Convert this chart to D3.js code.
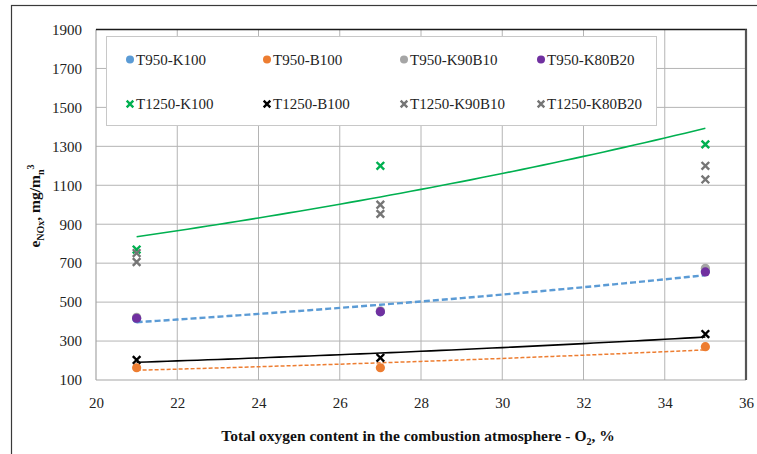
<!DOCTYPE html>
<html>
<head>
<meta charset="utf-8">
<script src="https://cdn.jsdelivr.net/npm/d3@7"></script>
<style>
  body { margin: 0; background: #fff; }
  svg, svg text { font-family: "Liberation Serif", "DejaVu Serif", "Times New Roman", serif; }
</style>
</head>
<body>
<svg id="chart" width="757" height="454"></svg>
<script>
// oxygen content, %
var o2 = [21, 27, 35];

// NOx emission, mg/m3
var t950K100 = [415, 450, 660];
var t950B100 = [163, 163, 271];
var t950K90B10 = [422, 455, 674];
var t950K80B20 = [417, 451, 655];
var t1250K100 = [770, 1200, 1310];
var t1250B100 = [203, 214, 336];
var t1250K90B10 = [752, 1000, 1200];
var t1250K80B20 = [706, 953, 1130];

var xTicks = [20, 22, 24, 26, 28, 30, 32, 34, 36];
var yTicks = [100, 300, 500, 700, 900, 1100, 1300, 1500, 1700, 1900];

var series = [
    {name: "T950-K100", values: t950K100, color: "#5b9bd5", shape: "dot"},
    {name: "T950-B100", values: t950B100, color: "#ed7d31", shape: "dot"},
    {name: "T950-K90B10", values: t950K90B10, color: "#a5a5a5", shape: "dot"},
    {name: "T950-K80B20", values: t950K80B20, color: "#7030a0", shape: "dot"},
    {name: "T1250-K100", values: t1250K100, color: "#00b050", shape: "cross"},
    {name: "T1250-B100", values: t1250B100, color: "#000000", shape: "cross"},
    {name: "T1250-K90B10", values: t1250K90B10, color: "#767676", shape: "cross"},
    {name: "T1250-K80B20", values: t1250K80B20, color: "#767676", shape: "cross"}
];

// exponential trendlines (Excel style), fitted on the series
var trends = [
    {values: t1250K100, color: "#00b050", width: 1.6, dash: null},
    {values: t950K100, color: "#5b9bd5", width: 2.4, dash: "6,3"},
    {values: t1250B100, color: "#000000", width: 1.6, dash: null},
    {values: t950B100, color: "#ed7d31", width: 1.5, dash: "4,2"}
];

var serif = "'Liberation Serif', 'DejaVu Serif', 'Times New Roman', serif";

function expFit(xs, ys) {
    var ly = ys.map(function(v) { return Math.log(v); }),
        mx = d3.mean(xs), my = d3.mean(ly),
        sxy = d3.sum(xs, function(x, i) { return (x - mx) * (ly[i] - my); }),
        sxx = d3.sum(xs, function(x) { return (x - mx) * (x - mx); }),
        b = sxy / sxx, a = Math.exp(my - b * mx);
    return function(x) { return a * Math.exp(b * x); };
}

var svg = d3.select("#chart");

var x = d3.scaleLinear().domain([20, 36]).range([96, 746]),
    y = d3.scaleLinear().domain([100, 1900]).range([380, 29.5]);

// outer chart frame
svg.append("rect")
    .attr("x", 11.5).attr("y", 5.5)
    .attr("width", 800).attr("height", 500)
    .attr("fill", "none").attr("stroke", "#3a3a3a").attr("stroke-width", 1.2);

// gridlines
svg.append("g").selectAll("line").data(xTicks.slice(1, -1)).enter()
    .append("line")
    .attr("x1", function(d) { return x(d); }).attr("x2", function(d) { return x(d); })
    .attr("y1", y(1900)).attr("y2", y(100))
    .attr("stroke", "#b4b4b4").attr("stroke-width", 1);
svg.append("g").selectAll("line").data(yTicks.slice(1, -1)).enter()
    .append("line")
    .attr("x1", x(20)).attr("x2", x(36))
    .attr("y1", function(d) { return y(d); }).attr("y2", function(d) { return y(d); })
    .attr("stroke", "#b4b4b4").attr("stroke-width", 1);

// axes lines (left & bottom gray, top & right dark)
svg.append("line").attr("x1", x(20)).attr("x2", x(20)).attr("y1", y(1900)).attr("y2", y(100))
    .attr("stroke", "#a6a6a6").attr("stroke-width", 1.2);
svg.append("line").attr("x1", x(20)).attr("x2", x(36)).attr("y1", y(100)).attr("y2", y(100))
    .attr("stroke", "#a6a6a6").attr("stroke-width", 1.2);
svg.append("line").attr("x1", x(20)).attr("x2", x(36) + 1).attr("y1", y(1900)).attr("y2", y(1900))
    .attr("stroke", "#1a1a1a").attr("stroke-width", 1.6);
svg.append("line").attr("x1", x(36)).attr("x2", x(36)).attr("y1", y(1900)).attr("y2", y(100))
    .attr("stroke", "#555").attr("stroke-width", 2.2);

// tick labels through d3 axes
var xAxis = svg.append("g")
    .attr("transform", "translate(0," + (y(100) + 11) + ")")
    .call(d3.axisBottom(x).tickValues(xTicks).tickFormat(d3.format("d")).tickSize(0).tickPadding(6));
var yAxis = svg.append("g")
    .attr("transform", "translate(" + (x(20) - 14) + ",0)")
    .call(d3.axisLeft(y).tickValues(yTicks).tickFormat(d3.format("d")).tickSize(0).tickPadding(0));
[xAxis, yAxis].forEach(function(g) {
    g.attr("font-family", null).attr("font-size", null);
    g.select(".domain").remove();
    g.selectAll("text")
        .style("font-family", serif)
        .attr("font-size", 15).attr("fill", "#222");
});

// axis titles
svg.append("text")
    .attr("x", 418).attr("y", 441)
    .attr("text-anchor", "middle")
    .style("font-family", serif)
    .attr("font-size", 15.5).attr("font-weight", "bold").attr("fill", "#111")
    .html('Total oxygen content in the combustion atmosphere - O<tspan dy="4" font-size="10">2</tspan><tspan dy="-4">, %</tspan>');

svg.append("text")
    .attr("transform", "translate(40,206) rotate(-90)")
    .attr("text-anchor", "middle")
    .style("font-family", serif)
    .attr("font-size", 15.5).attr("font-weight", "bold").attr("fill", "#111")
    .html('e<tspan dy="4" font-size="10">NOx</tspan><tspan dy="-4">, mg/m</tspan><tspan dy="4" font-size="10">n</tspan><tspan dy="-10" font-size="10">3</tspan>');

// trendlines
var xs = d3.range(21, 35.001, 0.25);
var line = d3.line()
    .x(function(d) { return x(d[0]); })
    .y(function(d) { return y(d[1]); });
trends.forEach(function(t) {
    var f = expFit(o2, t.values);
    svg.append("path")
        .attr("d", line(xs.map(function(v) { return [v, f(v)]; })))
        .attr("fill", "none")
        .attr("stroke", t.color)
        .attr("stroke-width", t.width)
        .attr("stroke-dasharray", t.dash);
});

function drawMarker(g, shape, color, cx, cy, big) {
    if (shape === "dot") {
        g.append("circle")
            .attr("cx", cx).attr("cy", cy).attr("r", big ? 4.6 : 4)
            .attr("fill", color);
    } else {
        var s = big ? 3.8 : 3.3;
        g.append("path")
            .attr("d", "M" + (cx - s) + "," + (cy - s) + "L" + (cx + s) + "," + (cy + s) +
                       "M" + (cx - s) + "," + (cy + s) + "L" + (cx + s) + "," + (cy - s))
            .attr("stroke", color).attr("stroke-width", 2.4).attr("fill", "none");
    }
}

// markers
var marks = svg.append("g");
series.forEach(function(s) {
    s.values.forEach(function(v, i) {
        drawMarker(marks, s.shape, s.color, x(o2[i]), y(v), true);
    });
});

// legend
var legend = svg.append("g");
legend.append("rect")
    .attr("x", 106.5).attr("y", 36.5).attr("width", 550).attr("height", 89)
    .attr("fill", "#fff").attr("stroke", "#c8c8c8").attr("stroke-width", 1);
var colX = [130, 267, 404, 541], rowY = [59.5, 104];
series.forEach(function(s, i) {
    var cx = colX[i % 4], cy = rowY[Math.floor(i / 4)];
    drawMarker(legend, s.shape, s.color, cx, cy, false);
    legend.append("text")
        .attr("x", cx + 6).attr("y", cy + 5)
        .style("font-family", serif)
        .attr("font-size", 15).attr("fill", "#222")
        .text(s.name);
});
</script>
</body>
</html>
